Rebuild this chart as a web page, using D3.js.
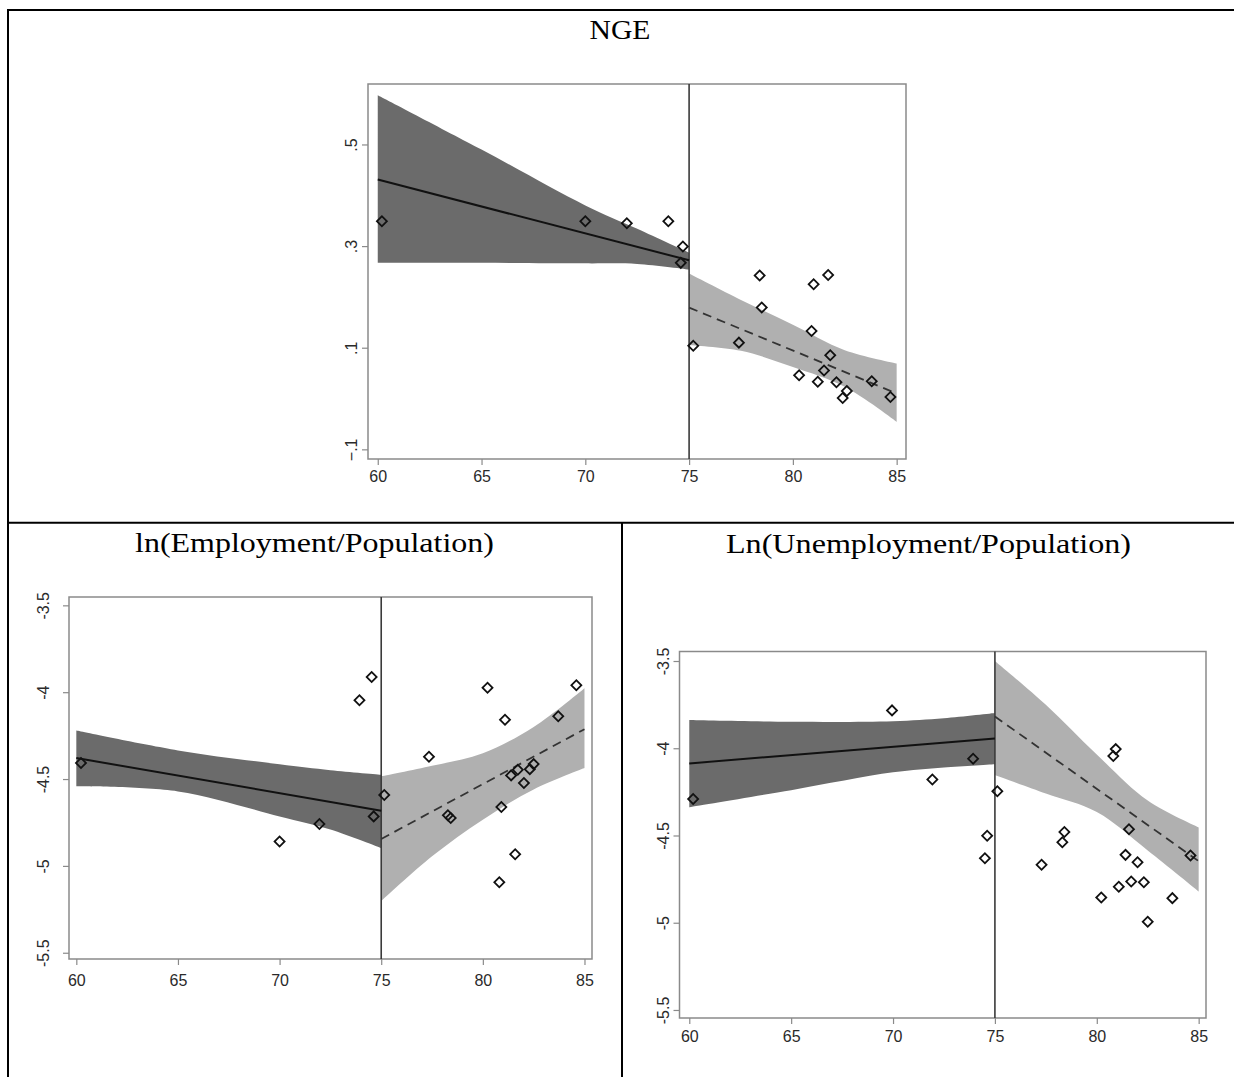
<!DOCTYPE html>
<html>
<head>
<meta charset="utf-8">
<script src="https://cdnjs.cloudflare.com/ajax/libs/d3/7.8.5/d3.min.js"></script>
<style>
  body { margin: 0; background: #fff; }
  svg { display: block; }
</style>
</head>
<body>
<svg id="chart" width="1234" height="1077"></svg>
<script>
// ---- data ----
const titles = ["NGE", "ln(Employment/Population)", "Ln(Unemployment/Population)"];
const xTicks = [60, 65, 70, 75, 80, 85];
const ngeTicks = [-0.1, 0.1, 0.3, 0.5];
const lnTicks = [-3.5, -4, -4.5, -5, -5.5];
const cutoff = 75;

// scatter points (age, value)
const ngeAge = [60.2, 70.0, 72.0, 74.0, 74.7, 74.6, 75.2, 77.4, 78.4, 78.5, 80.3, 80.9, 81.0, 81.2, 81.5, 81.7, 81.8, 82.1, 82.6, 82.4, 83.8, 84.7];
const ngeVal = [0.349, 0.349, 0.345, 0.349, 0.299, 0.267, 0.104, 0.110, 0.242, 0.179, 0.046, 0.133, 0.225, 0.033, 0.055, 0.243, 0.085, 0.032, 0.015, 0.001, 0.034, 0.003];

const empAge = [60.23, 70.0, 71.96, 73.93, 74.53, 74.63, 75.15, 77.35, 78.28, 78.42, 80.23, 80.91, 80.81, 81.09, 81.39, 81.59, 81.72, 82.02, 82.31, 82.5, 83.71, 84.6];
const empVal = [-4.408, -4.859, -4.759, -4.046, -3.912, -4.715, -4.592, -4.372, -4.709, -4.724, -3.974, -4.661, -5.094, -4.159, -4.479, -4.933, -4.447, -4.523, -4.443, -4.414, -4.138, -3.96];

const unAge = [60.19, 69.95, 71.93, 73.93, 74.62, 74.51, 75.12, 77.29, 78.31, 78.41, 80.22, 80.81, 80.93, 81.08, 81.41, 81.58, 81.69, 82.0, 82.31, 82.5, 83.71, 84.6];
const unVal = [-4.291, -3.783, -4.179, -4.06, -4.501, -4.631, -4.246, -4.668, -4.539, -4.48, -4.855, -4.044, -4.005, -4.794, -4.611, -4.464, -4.764, -4.653, -4.768, -4.994, -4.859, -4.615];

// confidence bands, read at these ages
const bandLeftAge = [60, 65, 70, 72.5, 75];
const bandRightAge = [75, 77.5, 80, 82.5, 85];

const ngeLeftHi = [0.597, 0.49, 0.38, 0.334, 0.287];
const ngeLeftLo = [0.267, 0.267, 0.266, 0.265, 0.254];
const ngeRightHi = [0.246, 0.194, 0.145, 0.095, 0.069];
const ngeRightLo = [0.105, 0.094, 0.062, 0.023, -0.046];

const empLeftHi = [-4.221, -4.335, -4.415, -4.449, -4.475];
const empLeftLo = [-4.542, -4.571, -4.715, -4.79, -4.897];
const empRightHi = [-4.485, -4.424, -4.351, -4.2, -3.977];
const empRightLo = [-5.203, -4.945, -4.734, -4.56, -4.437];

const unLeftHi = [-3.838, -3.848, -3.845, -3.828, -3.798];
const unLeftLo = [-4.338, -4.24, -4.138, -4.11, -4.091];
const unRightHi = [-3.5, -3.751, -4.036, -4.3, -4.454];
const unRightLo = [-4.154, -4.26, -4.366, -4.586, -4.821];

// fitted lines, value at the two ends of each side
const ngeFitLeft = [0.431, 0.272];
const ngeFitRight = [0.179, 0.01];
const empFitLeft = [-4.379, -4.682];
const empFitRight = [-4.845, -4.213];
const unFitLeft = [-4.087, -3.944];
const unFitRight = [-3.818, -4.647];

// ---- layout ----
const svg = d3.select("#chart");
const tickFont = "16px 'Liberation Sans', Arial, sans-serif";
const frameCol = "#8a8a8a";

const stripZero = d => d3.format(".1f")(d).replace("0.", ".");

const panels = [
  { title: titles[0], tx: 620, ty: 39, tw: 61,
    left: 368, right: 906, top: 84, bottom: 459,
    xDom: [59.53, 85.45], yDom: [-0.119, 0.619],
    yTicks: ngeTicks, fmt: stripZero, yGap: 17, xGap: 17,
    age: ngeAge, val: ngeVal,
    leftHi: ngeLeftHi, leftLo: ngeLeftLo, rightHi: ngeRightHi, rightLo: ngeRightLo,
    fitL: ngeFitLeft, fitR: ngeFitRight },
  { title: titles[1], tx: 314.5, ty: 552, tw: 359,
    left: 69, right: 592, top: 597, bottom: 959,
    xDom: [59.64, 85.37], yDom: [-5.536, -3.452],
    yTicks: lnTicks, fmt: d => String(d), yGap: 25.5, xGap: 21,
    age: empAge, val: empVal,
    leftHi: empLeftHi, leftLo: empLeftLo, rightHi: empRightHi, rightLo: empRightLo,
    fitL: empFitLeft, fitR: empFitRight },
  { title: titles[2], tx: 928.5, ty: 553, tw: 405,
    left: 679.5, right: 1206, top: 651.5, bottom: 1018,
    xDom: [59.52, 85.36], yDom: [-5.546, -3.4455],
    yTicks: lnTicks, fmt: d => String(d), yGap: 16.5, xGap: 18,
    age: unAge, val: unVal,
    leftHi: unLeftHi, leftLo: unLeftLo, rightHi: unRightHi, rightLo: unRightLo,
    fitL: unFitLeft, fitR: unFitRight }
];

function drawPanel(cfg) {
  const g = svg.append("g");
  const x = d3.scaleLinear().domain(cfg.xDom).range([cfg.left, cfg.right]);
  const y = d3.scaleLinear().domain(cfg.yDom).range([cfg.bottom, cfg.top]);

  // title
  svg.append("text")
    .attr("x", cfg.tx).attr("y", cfg.ty)
    .attr("text-anchor", "middle")
    .attr("textLength", cfg.tw).attr("lengthAdjust", "spacingAndGlyphs")
    .style("font", "28px 'Liberation Serif', 'Times New Roman', serif")
    .attr("fill", "#000")
    .text(cfg.title);

  // bands
  const area = d3.area()
    .curve(d3.curveCatmullRom.alpha(0.5))
    .x(d => x(d.a)).y0(d => y(d.lo)).y1(d => y(d.hi));
  const leftBand = bandLeftAge.map((a, i) => ({ a, lo: cfg.leftLo[i], hi: cfg.leftHi[i] }));
  const rightBand = bandRightAge.map((a, i) => ({ a, lo: cfg.rightLo[i], hi: cfg.rightHi[i] }));
  g.append("path").datum(leftBand).attr("d", area).attr("fill", "#6b6b6b");
  g.append("path").datum(rightBand).attr("d", area).attr("fill", "#b0b0b0");

  // frame
  g.append("rect")
    .attr("x", cfg.left).attr("y", cfg.top)
    .attr("width", cfg.right - cfg.left).attr("height", cfg.bottom - cfg.top)
    .attr("fill", "none").attr("stroke", frameCol).attr("stroke-width", 1.5);

  // x axis
  const xa = g.append("g")
    .attr("transform", `translate(0,${cfg.bottom})`)
    .call(d3.axisBottom(x).tickValues(xTicks).tickSize(6).tickFormat(d3.format("d")));
  xa.select(".domain").remove();
  xa.selectAll("line").attr("stroke", frameCol).attr("stroke-width", 1.2);
  xa.selectAll("text")
    .attr("y", cfg.xGap).attr("dy", "0.36em")
    .attr("fill", "#2a2a2a").style("font", tickFont);

  // y axis, labels turned upright like Stata does
  const ya = g.append("g")
    .attr("transform", `translate(${cfg.left},0)`)
    .call(d3.axisLeft(y).tickValues(cfg.yTicks).tickSize(6).tickFormat(cfg.fmt));
  ya.select(".domain").remove();
  ya.selectAll("line").attr("stroke", frameCol).attr("stroke-width", 1.2);
  ya.selectAll("text")
    .attr("transform", "rotate(-90)")
    .attr("x", 0).attr("y", -cfg.yGap).attr("dy", "0.36em")
    .attr("text-anchor", "middle")
    .attr("fill", "#2a2a2a").style("font", tickFont);

  // cutoff
  g.append("line")
    .attr("x1", x(cutoff)).attr("x2", x(cutoff))
    .attr("y1", cfg.top).attr("y2", cfg.bottom)
    .attr("stroke", "#3a3a3a").attr("stroke-width", 1.6);

  // fitted lines
  const line = d3.line().x(d => x(d[0])).y(d => y(d[1]));
  g.append("path")
    .datum([[bandLeftAge[0], cfg.fitL[0]], [cutoff, cfg.fitL[1]]])
    .attr("d", line).attr("fill", "none")
    .attr("stroke", "#111").attr("stroke-width", 2);
  g.append("path")
    .datum([[cutoff, cfg.fitR[0]], [bandRightAge[bandRightAge.length - 1], cfg.fitR[1]]])
    .attr("d", line).attr("fill", "none")
    .attr("stroke", "#333").attr("stroke-width", 1.8)
    .attr("stroke-dasharray", "9,6");

  // points: hollow diamonds
  const diamond = d3.symbol(d3.symbolSquare, 50);
  g.selectAll("path.pt")
    .data(d3.zip(cfg.age, cfg.val))
    .join("path")
    .attr("class", "pt")
    .attr("d", diamond)
    .attr("transform", d => `translate(${x(d[0])},${y(d[1])}) rotate(45)`)
    .attr("fill", "none")
    .attr("stroke", "#111")
    .attr("stroke-width", 1.8);
}

panels.forEach(drawPanel);

// table borders round the three figures
const border = [
  [7, 10, 1234, 10],
  [8, 9, 8, 1077],
  [7, 522.7, 1234, 522.7],
  [622, 522, 622, 1077]
];
svg.selectAll("line.border")
  .data(border)
  .join("line")
  .attr("class", "border")
  .attr("x1", d => d[0]).attr("y1", d => d[1])
  .attr("x2", d => d[2]).attr("y2", d => d[3])
  .attr("stroke", "#000").attr("stroke-width", 2);
</script>
</body>
</html>
